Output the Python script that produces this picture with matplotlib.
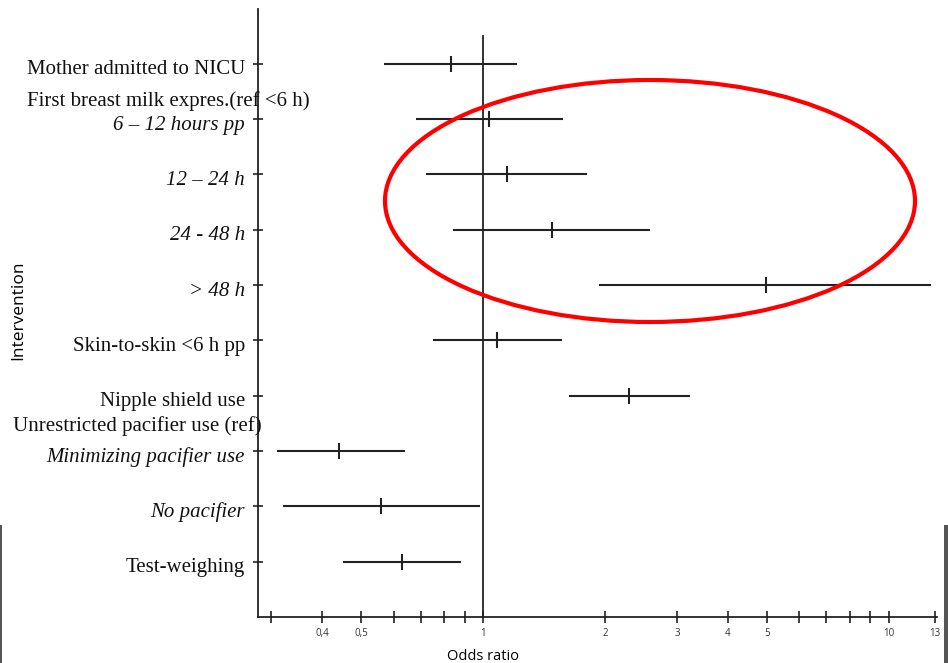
import matplotlib.pyplot as plt
from matplotlib.patches import Ellipse, Rectangle
from matplotlib.transforms import blended_transform_factory, ScaledTranslation

# DATA (odds ratio with 95% CI)
labels = [
    "Mother admitted to NICU",
    "6 \u2013 12 hours pp",
    "12 \u2013 24 h",
    "24 - 48 h",
    "> 48 h",
    "Skin-to-skin <6 h pp",
    "Nipple shield use",
    "Minimizing pacifier use",
    "No pacifier",
    "Test-weighing",
]
italic = [False, True, True, True, True, False, False, True, True, False]
odds = [0.83, 1.03, 1.14, 1.48, 4.97, 1.08, 2.29, 0.44, 0.56, 0.63]
ci_low = [0.57, 0.68, 0.72, 0.84, 1.93, 0.75, 1.63, 0.31, 0.32, 0.45]
ci_high = [1.21, 1.57, 1.80, 2.58, 12.7, 1.56, 3.23, 0.64, 0.98, 0.88]

group_headers = ["First breast milk expres.(ref <6 h)", "Unrestricted pacifier use (ref)"]

xticks = [0.3, 0.4, 0.5, 0.6, 0.7, 0.8, 0.9, 1, 2, 3, 4, 5, 6, 7, 8, 9, 10, 13]
xtick_labels = ["", "0,4", "0,5", "", "", "", "", "1", "2", "3", "4", "5",
                "", "", "", "", "10", "13"]

serif = "Liberation Serif"
sans = "Open Sans"
ink = "#222222"

fig = plt.figure(figsize=(9.48, 6.63), dpi=100)
ax = fig.add_axes([0.2722, 0.0694, 0.7163, 0.917])

rows = list(range(len(labels)))

# intervalos de confianza y estimaciones
ax.hlines(rows, ci_low, ci_high, color=ink, linewidth=1.5)
ax.plot(odds, rows, linestyle="none", marker="|", markersize=11,
        markeredgewidth=1.5, color=ink)

# línea de referencia OR = 1
ax.plot([1, 1], [10.0, -0.5], color=ink, linewidth=1.3, clip_on=False)

ax.set_xscale("log")
ax.set_xlim(0.278, 13.15)
ax.set_ylim(10.0, -0.99)

ax.set_xticks(xticks)
ax.set_xticklabels(xtick_labels, fontfamily=sans, fontsize=7, color="#333333")
ax.minorticks_off()
ax.tick_params(axis="x", direction="inout", length=8, width=1.2, pad=4, color=ink)

# marcas del eje y sin texto; etiquetas dibujadas aparte, un poco más abajo
ax.set_yticks(rows)
ax.set_yticklabels([])
ax.tick_params(axis="y", direction="inout", length=7, width=1.2, color=ink)

trans = blended_transform_factory(ax.transAxes, ax.transData)
lab_trans = trans + ScaledTranslation(-13 / 100, -6 / 100, fig.dpi_scale_trans)
for r, lab, it in zip(rows, labels, italic):
    ax.text(0, r, lab, transform=lab_trans, ha="right", va="center",
            fontfamily=serif, fontsize=15, color="#111111",
            fontstyle="italic" if it else "normal")

for side in ["top", "right"]:
    ax.spines[side].set_visible(False)
for side in ["left", "bottom"]:
    ax.spines[side].set_color(ink)
    ax.spines[side].set_linewidth(1.3)

ax.text(-0.340, 0.67, group_headers[0], transform=trans, ha="left", va="center",
        fontfamily=serif, fontsize=15, color="#111111")
ax.text(0.006, 6.55, group_headers[1], transform=trans, ha="right", va="center",
        fontfamily=serif, fontsize=15, color="#111111")

# etiqueta del eje x centrada bajo OR = 1
xlab = blended_transform_factory(ax.transData, fig.transFigure)
ax.text(1, 1 - 656 / 663, "Odds ratio", transform=xlab, ha="center", va="center",
        fontfamily=sans, fontsize=10.5)
fig.text(0.019, 0.532, "Intervention", rotation=90, ha="center", va="center",
         fontfamily=sans, fontsize=12.5)

# elipse roja de resaltado
fig.add_artist(Ellipse((650 / 948, 1 - 201 / 663), width=530 / 948, height=242 / 663,
                       transform=fig.transFigure, fill=False, edgecolor="#ff0000",
                       linewidth=3))

# bordes grises de la captura
fig.add_artist(Rectangle((0, 0), 2 / 948, 138 / 663, transform=fig.transFigure,
                         color="#555555", linewidth=0))
fig.add_artist(Rectangle((944 / 948, 0), 4 / 948, 138 / 663, transform=fig.transFigure,
                         color="#555555", linewidth=0))

fig.savefig("out.png", dpi=100)
